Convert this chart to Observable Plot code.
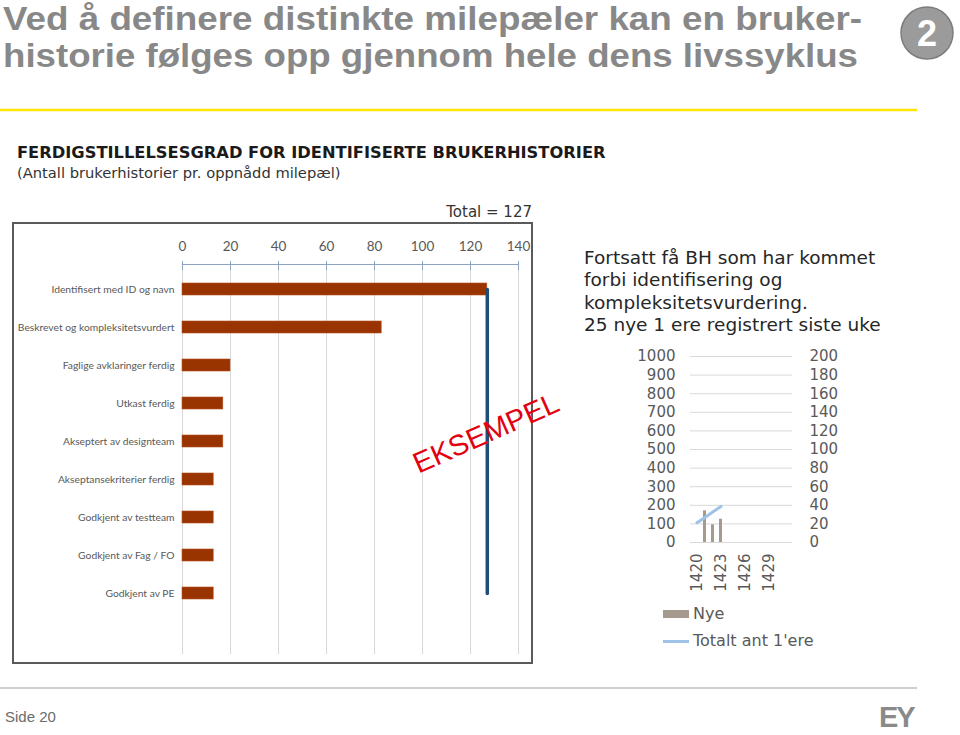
<!DOCTYPE html>
<html>
<head>
<meta charset="utf-8">
<script src="https://cdn.jsdelivr.net/npm/d3@7"></script>
<script src="https://cdn.jsdelivr.net/npm/@observablehq/plot@0.6"></script>
<style>
  html, body { margin: 0; padding: 0; background: #fff; }
  #page { position: relative; width: 960px; height: 735px; overflow: hidden; background: #fff; }
  .abs { position: absolute; }
  .verd { font-family: "DejaVu Sans", Verdana, sans-serif; }
</style>
</head>
<body>
<div id="page">
  <svg class="abs" style="left:0;top:0" width="960" height="120">
    <text x="3" y="30" font-family="Liberation Sans, Arial, sans-serif" font-weight="bold" font-size="33.5" fill="#888888" textLength="859" lengthAdjust="spacingAndGlyphs">Ved å definere distinkte milepæler kan en bruker-</text>
    <text x="3" y="67" font-family="Liberation Sans, Arial, sans-serif" font-weight="bold" font-size="33.5" fill="#888888" textLength="855" lengthAdjust="spacingAndGlyphs">historie følges opp gjennom hele dens livssyklus</text>
    <circle cx="927" cy="33" r="26" fill="#9b9b9b" stroke="#7d7d7d" stroke-width="1.5"/>
    <text x="927" y="46" text-anchor="middle" font-family="Liberation Sans, Arial, sans-serif" font-weight="bold" font-size="36" fill="#ffffff">2</text>
    <line x1="0" x2="917" y1="110" y2="110" stroke="#FFE600" stroke-width="2.5"/>
  </svg>

  <div class="abs verd" style="left:17px;top:143px;font-size:16.3px;font-weight:bold;color:#1a1a1a;white-space:nowrap;line-height:20px">FERDIGSTILLELSESGRAD FOR IDENTIFISERTE BRUKERHISTORIER</div>
  <div class="abs verd" style="left:17px;top:163px;font-size:14.7px;color:#333;white-space:nowrap;line-height:20px">(Antall brukerhistorier pr. oppnådd milepæl)</div>
  <div class="abs verd" style="right:428px;top:202px;font-size:15px;color:#333;white-space:nowrap;line-height:20px">Total = 127</div>

  <div class="abs" style="left:12px;top:222px;width:517px;height:438px;border:2px solid #5a5a5a"></div>
  <div id="main" class="abs" style="left:13px;top:223px"></div>

  <div class="abs verd" style="left:584px;top:247px;font-size:18.5px;color:#262626;line-height:22.3px;white-space:nowrap">Fortsatt få BH som har kommet<br>forbi identifisering og<br>kompleksitetsvurdering.<br>25 nye 1 ere registrert siste uke</div>

  <div id="small" class="abs" style="left:600px;top:340px"></div>

  <div class="abs verd" style="left:663px;top:604px;font-size:16px;color:#595959;line-height:20px;white-space:nowrap">
    <div style="position:relative;height:20px"><span style="position:absolute;left:0;top:6px;width:26px;height:8px;background:#A59A8E"></span><span style="position:absolute;left:30px;top:0">Nye</span></div>
    <div style="position:relative;height:20px;margin-top:7px"><span style="position:absolute;left:0;top:9px;width:26px;height:3px;background:#9DC3E6"></span><span style="position:absolute;left:30px;top:0">Totalt ant 1'ere</span></div>
  </div>

  <div class="abs" style="left:0;top:687px;width:917px;height:2px;background:#cfcfcf"></div>
  <div class="abs" style="left:5px;top:708px;font-family:'Liberation Sans',Arial,sans-serif;font-size:15px;color:#6b6b6b;white-space:nowrap">Side 20</div>
  <div class="abs" style="left:879px;top:704px;font-family:'Liberation Sans',Arial,sans-serif;font-weight:bold;font-size:29px;color:#8a8a8a;letter-spacing:-2px;line-height:26px;white-space:nowrap">EY</div>
</div>

<script>
// ---- Main chart data ----
const milestones = [
  "Identifisert med ID og navn",
  "Beskrevet og kompleksitetsvurdert",
  "Faglige avklaringer ferdig",
  "Utkast ferdig",
  "Akseptert av designteam",
  "Akseptansekriterier ferdig",
  "Godkjent av testteam",
  "Godkjent av Fag / FO",
  "Godkjent av PE"
];
const counts = [127, 83, 20, 17, 17, 13, 13, 13, 13];
const total = 127;
const xTicks = [0, 20, 40, 60, 80, 100, 120, 140];

// ---- Small chart data ----
const weeks = [1420, 1421, 1422, 1423, 1424, 1425, 1426, 1427, 1428, 1429, 1430, 1431];
const weekLabels = [1420, 1423, 1426, 1429];
const nyeWeeks = [1421, 1422, 1423];
const nye = [34, 19, 25];            // right axis (0–200)
const totalWeeks = [1420, 1421, 1422, 1423];
const totaltAnt = [106, 135, 165, 194]; // left axis (0–1000)
const leftTicks = [0, 100, 200, 300, 400, 500, 600, 700, 800, 900, 1000];
const rightTicks = [0, 20, 40, 60, 80, 100, 120, 140, 160, 180, 200];
const axisRatio = 1000 / 200;

const barData = milestones.map((m, i) => ({milestone: m, value: counts[i]}));
const totalLine = [
  {milestone: milestones[0], value: total},
  {milestone: milestones[milestones.length - 1], value: total}
];

const step = 38.875;
const main = Plot.plot({
  width: 519,
  height: 440,
  marginLeft: 169,
  marginRight: 14,
  marginTop: 41,
  marginBottom: 9,
  style: {fontFamily: "Lato, 'Open Sans', sans-serif", background: "transparent", overflow: "visible"},
  x: {domain: [0, 140], axis: null},
  y: {domain: milestones, range: [62 - step / 2, 373 + step / 2], paddingInner: 0.69, paddingOuter: 0.345, axis: null},
  marks: [
    Plot.gridX(xTicks, {stroke: "#d9d9d9", strokeOpacity: 1}),
    Plot.frame({anchor: "top", stroke: "#8EA4C2", strokeWidth: 1.2}),
    Plot.axisX(xTicks, {anchor: "top", tickSize: 4, text: null, stroke: "#8EA4C2", label: null}),
    Plot.axisX(xTicks, {anchor: "top", tickSize: -5, text: null, stroke: "#8EA4C2", label: null}),
    Plot.axisX(xTicks, {anchor: "top", tickSize: 0, tickPadding: 14, fontSize: 13.5, fill: "#595959", fontFamily: "Lato, sans-serif", label: null, tickFormat: d => String(d)}),
    Plot.axisY({anchor: "left", tickSize: 0, tickPadding: 8, fontSize: 10.3, fill: "#595959", label: null}),
    Plot.barX(barData, {x: "value", y: "milestone", fill: "#993300", stroke: "#B4501E", strokeWidth: 0.6}),
    Plot.lineX(totalLine, {x: "value", y: "milestone", stroke: "#1F4E79", strokeWidth: 3.5, strokeLinecap: "round"}),
    Plot.text(["EKSEMPEL"], {x: 126.5, y: () => milestones[4], dy: -8, text: d => d, rotate: -24, fontSize: 29, fill: "#E3000F", fontFamily: "Liberation Sans, Arial, sans-serif"})
  ]
});
document.getElementById("main").appendChild(main);

const nyeData = nyeWeeks.map((w, i) => ({week: w, nye: nye[i]}));
const totData = totalWeeks.map((w, i) => ({week: w, tot: totaltAnt[i]}));

const small = Plot.plot({
  width: 240,
  height: 260,
  marginLeft: 90,
  marginRight: 48,
  marginTop: 16,
  marginBottom: 58,
  style: {fontFamily: "'DejaVu Sans', Verdana, sans-serif", background: "transparent", overflow: "visible"},
  x: {type: "band", domain: weeks, paddingInner: 0.6, paddingOuter: 0.3, axis: null},
  y: {domain: [0, 1000], axis: null},
  marks: [
    Plot.gridY(leftTicks, {stroke: "#d9d9d9", strokeOpacity: 1}),
    Plot.axisY(leftTicks, {anchor: "left", tickSize: 0, tickPadding: 15, fontSize: 15, fill: "#595959", label: null, tickFormat: d => String(d)}),
    Plot.axisY(leftTicks, {anchor: "right", tickSize: 0, tickPadding: 17, fontSize: 15, fill: "#595959", label: null, tickFormat: (d, i) => String(rightTicks[i])}),
    Plot.axisX(weekLabels, {anchor: "bottom", tickSize: 0, tickPadding: 11, tickRotate: -90, fontSize: 15, fill: "#595959", label: null, tickFormat: d => String(d)}),
    Plot.barY(nyeData, {x: "week", y: d => d.nye * axisRatio, fill: "#A59A8E"}),
    Plot.line(totData, {x: "week", y: "tot", stroke: "#9DC3E6", strokeWidth: 3})
  ]
});
document.getElementById("small").appendChild(small);
</script>
</body>
</html>
